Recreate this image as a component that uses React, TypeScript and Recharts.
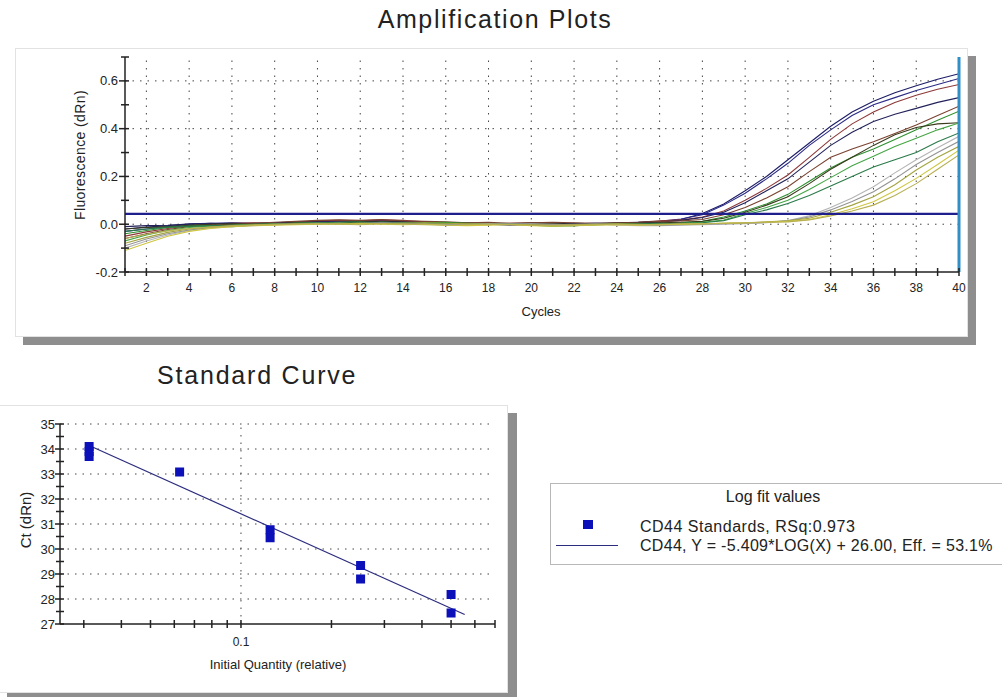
import { ComposedChart, Line, LineChart, ReferenceLine, Scatter, XAxis, YAxis } from 'recharts';

// amplification plot data: fluorescence (dRn) per cycle
const cycles = [1, 2, 3, 4, 5, 6, 7, 8, 9, 10, 11, 12, 13, 14, 15, 16, 17, 18, 19, 20, 21, 22, 23, 24, 25, 26, 27, 28, 29, 30, 31, 32, 33, 34, 35, 36, 37, 38, 39, 40];

const s1 = [-0.02, -0.012, -0.006, 0.002, 0.004, 0.0, 0.002, 0.004, 0.008, 0.01, 0.012, 0.01, 0.014, 0.012, 0.008, 0.006, 0.004, 0.004, 0.002, 0.0, 0.002, 0.002, 0.004, 0.004, 0.006, 0.01, 0.02, 0.045, 0.085, 0.14, 0.2, 0.27, 0.34, 0.41, 0.47, 0.515, 0.55, 0.58, 0.607, 0.63];
const s2 = [-0.03, -0.02, -0.01, 0.0, 0.004, 0.006, 0.004, 0.006, 0.01, 0.012, 0.01, 0.012, 0.016, 0.01, 0.006, 0.004, 0.002, 0.0, -0.004, -0.002, 0.0, 0.002, 0.004, 0.002, 0.006, 0.012, 0.022, 0.04, 0.08, 0.13, 0.19, 0.255, 0.33, 0.395, 0.455, 0.5, 0.53, 0.56, 0.585, 0.61];
const s3 = [-0.05, -0.032, -0.018, -0.006, 0.0, 0.004, 0.006, 0.004, 0.008, 0.014, 0.016, 0.014, 0.018, 0.016, 0.01, 0.006, 0.004, 0.002, 0.004, 0.006, 0.004, 0.002, 0.0, 0.004, 0.008, 0.014, 0.018, 0.03, 0.055, 0.1, 0.15, 0.206, 0.28, 0.355, 0.42, 0.47, 0.51, 0.54, 0.565, 0.585];
const s4 = [-0.01, -0.006, -0.004, 0.0, 0.002, 0.004, 0.002, 0.006, 0.008, 0.01, 0.008, 0.012, 0.012, 0.01, 0.008, 0.004, 0.006, 0.002, 0.0, 0.002, 0.002, 0.004, 0.002, 0.006, 0.008, 0.01, 0.016, 0.028, 0.05, 0.09, 0.14, 0.19, 0.26, 0.33, 0.385, 0.43, 0.46, 0.485, 0.51, 0.53];
const s5 = [-0.06, -0.04, -0.022, -0.01, -0.004, 0.0, 0.004, 0.008, 0.012, 0.016, 0.018, 0.016, 0.02, 0.014, 0.012, 0.01, 0.006, 0.008, 0.004, 0.006, 0.008, 0.006, 0.004, 0.006, 0.008, 0.012, 0.014, 0.02, 0.04, 0.07, 0.11, 0.157, 0.22, 0.28, 0.315, 0.345, 0.38, 0.415, 0.455, 0.494];
const s6 = [-0.04, -0.026, -0.014, -0.008, -0.006, -0.01, -0.004, 0.0, 0.004, 0.006, 0.008, 0.01, 0.006, 0.004, 0.006, 0.008, 0.004, 0.0, 0.002, -0.004, -0.008, -0.006, -0.002, 0.0, 0.002, 0.004, 0.006, 0.012, 0.03, 0.055, 0.085, 0.125, 0.18, 0.235, 0.28, 0.315, 0.355, 0.395, 0.435, 0.473];
const s7 = [-0.02, -0.014, -0.01, -0.004, 0.0, 0.002, 0.0, 0.002, 0.006, 0.008, 0.006, 0.008, 0.01, 0.008, 0.004, 0.002, 0.0, -0.002, 0.002, 0.004, 0.002, 0.0, 0.002, 0.004, 0.004, 0.006, 0.008, 0.012, 0.025, 0.05, 0.08, 0.115, 0.17, 0.23, 0.28, 0.33, 0.375, 0.405, 0.42, 0.425];
const s8 = [-0.07, -0.045, -0.026, -0.014, -0.008, -0.004, 0.0, 0.002, 0.004, 0.006, 0.006, 0.004, 0.008, 0.006, 0.004, 0.002, 0.0, 0.002, 0.0, -0.002, -0.006, -0.004, 0.0, 0.002, 0.0, 0.002, 0.004, 0.008, 0.018, 0.045, 0.07, 0.1, 0.145, 0.195, 0.245, 0.285, 0.325, 0.36, 0.395, 0.424];
const s9 = [-0.03, -0.02, -0.012, -0.008, -0.006, -0.004, -0.002, 0.0, 0.004, 0.006, 0.004, 0.006, 0.008, 0.006, 0.002, 0.0, -0.002, 0.0, 0.002, 0.0, -0.004, -0.006, -0.002, 0.0, 0.002, 0.002, 0.004, 0.006, 0.015, 0.04, 0.06, 0.087, 0.12, 0.16, 0.2, 0.24, 0.27, 0.3, 0.345, 0.382];
const s10 = [-0.1, -0.07, -0.045, -0.026, -0.016, -0.01, -0.006, -0.002, 0.0, 0.002, 0.004, 0.002, 0.004, 0.002, 0.0, -0.002, 0.0, 0.002, 0.0, 0.002, 0.0, -0.002, 0.0, -0.004, -0.006, -0.006, -0.004, -0.002, 0.0, 0.002, 0.006, 0.015, 0.035, 0.07, 0.11, 0.157, 0.215, 0.27, 0.32, 0.368];
const s11 = [-0.09, -0.062, -0.04, -0.024, -0.014, -0.008, -0.004, 0.0, 0.002, 0.004, 0.002, 0.004, 0.006, 0.004, 0.002, 0.0, -0.002, 0.0, 0.002, 0.0, -0.002, 0.0, 0.002, 0.0, -0.002, -0.004, -0.002, 0.0, 0.002, 0.004, 0.008, 0.014, 0.03, 0.06, 0.095, 0.136, 0.19, 0.25, 0.3, 0.347];
const s12 = [-0.08, -0.055, -0.034, -0.02, -0.012, -0.006, -0.002, 0.0, 0.002, 0.0, 0.002, 0.004, 0.002, 0.004, 0.006, 0.004, 0.002, 0.0, 0.0, -0.002, -0.004, -0.002, 0.0, 0.002, 0.0, -0.002, 0.0, 0.002, 0.004, 0.006, 0.01, 0.014, 0.025, 0.05, 0.08, 0.115, 0.165, 0.227, 0.28, 0.326];
const s13 = [-0.11, -0.08, -0.05, -0.03, -0.018, -0.01, -0.006, -0.004, -0.002, 0.0, 0.0, 0.002, 0.0, -0.002, 0.0, -0.004, -0.006, -0.004, -0.002, -0.006, -0.008, -0.006, -0.004, -0.002, -0.004, -0.002, 0.0, 0.002, 0.004, 0.006, 0.008, 0.012, 0.02, 0.04, 0.065, 0.094, 0.14, 0.192, 0.25, 0.31];
const s14 = [-0.06, -0.042, -0.028, -0.018, -0.012, -0.008, -0.004, -0.002, 0.0, 0.002, 0.0, -0.002, 0.002, 0.0, -0.002, -0.004, -0.002, 0.0, -0.002, -0.004, -0.006, -0.004, -0.002, 0.0, -0.002, 0.0, 0.002, 0.002, 0.004, 0.006, 0.008, 0.01, 0.018, 0.035, 0.055, 0.08, 0.12, 0.17, 0.23, 0.29];

const threshold = 0.043;
const ampYTicks = [-0.2, -0.1, 0, 0.1, 0.2, 0.3, 0.4, 0.5, 0.6, 0.7];
const ampGridY = [0, 0.2, 0.4, 0.6];
const ampGridX = [2, 4, 6, 8, 10, 12, 14, 16, 18, 20, 22, 24, 26, 28, 30, 32, 34, 36, 38];

// standard curve data
const stdQuantity = [0.03125, 0.03125, 0.03125, 0.0625, 0.125, 0.125, 0.25, 0.25, 0.5, 0.5];
const stdCt = [34.1, 33.9, 33.7, 33.08, 30.77, 30.45, 29.34, 28.8, 28.18, 27.44];
const fitQuantity = [0.03125, 0.555];
const fitCt = [34.14, 27.38];
const stdYTicks = [27, 27.5, 28, 28.5, 29, 29.5, 30, 30.5, 31, 31.5, 32, 32.5, 33, 33.5, 34, 34.5, 35];
const stdGridY = [28, 29, 30, 31, 32, 33, 34, 35];
const stdXTicks = [0.03, 0.04, 0.05, 0.06, 0.07, 0.08, 0.09, 0.1, 0.2, 0.3, 0.4, 0.5, 0.6, 0.7];

const curves = [
  { key: 's1', values: s1, color: '#1c1c66' },
  { key: 's2', values: s2, color: '#2a2a86' },
  { key: 's3', values: s3, color: '#8c3838' },
  { key: 's4', values: s4, color: '#22225a' },
  { key: 's5', values: s5, color: '#7a4230' },
  { key: 's6', values: s6, color: '#2f8f2f' },
  { key: 's7', values: s7, color: '#3a3a1c' },
  { key: 's8', values: s8, color: '#44a644' },
  { key: 's9', values: s9, color: '#2a7a48' },
  { key: 's10', values: s10, color: '#b4b4b4' },
  { key: 's11', values: s11, color: '#939393' },
  { key: 's12', values: s12, color: '#a4a440' },
  { key: 's13', values: s13, color: '#cfc640' },
  { key: 's14', values: s14, color: '#b8b052' },
];

const ampRows = cycles.map((c, i) => {
  const row: Record<string, number> = { cycle: c };
  curves.forEach(s => (row[s.key] = s.values[i]));
  return row;
});

const stdPoints = stdQuantity.map((q, i) => ({ x: q, y: stdCt[i] }));
const fitPoints = fitQuantity.map((q, i) => ({ x: q, y: fitCt[i] }));

const FONT = '"Liberation Sans", Arial, sans-serif';
const AXIS = '#222';

const AmpXTick = (props: any) => {
  const { x, y, payload } = props;
  const v = payload.value;
  return (
    <g>
      <line x1={x} x2={x} y1={y - 4} y2={y + 4} stroke={AXIS} strokeWidth={1.5} />
      {v % 2 === 0 && (
        <text x={x} y={y + 20} textAnchor='middle' fontSize={12} fill={AXIS} fontFamily={FONT}>
          {v}
        </text>
      )}
    </g>
  );
};

const AmpYTick = (props: any) => {
  const { x, y, payload } = props;
  const tenths = Math.round(payload.value * 10);
  const major = tenths % 2 === 0 && tenths < 7;
  return (
    <g>
      <line x1={x - (major ? 6 : 4)} x2={x + 4} y1={y} y2={y} stroke={AXIS} strokeWidth={1.5} />
      {major && (
        <text x={x - 7} y={y + 4.5} textAnchor='end' fontSize={13} fill={AXIS} fontFamily={FONT}>
          {payload.value.toFixed(1)}
        </text>
      )}
    </g>
  );
};

const StdXTick = (props: any) => {
  const { x, y, payload } = props;
  return (
    <g>
      <line x1={x} x2={x} y1={y - 4} y2={y + 4} stroke={AXIS} strokeWidth={1.5} />
      {payload.value === 0.1 && (
        <text x={x} y={y + 22} textAnchor='middle' fontSize={12} fill={AXIS} fontFamily={FONT}>
          0.1
        </text>
      )}
    </g>
  );
};

const StdYTick = (props: any) => {
  const { x, y, payload } = props;
  const major = Number.isInteger(payload.value);
  return (
    <g>
      <line x1={x - (major ? 5 : 4)} x2={x + 4} y1={y} y2={y} stroke={AXIS} strokeWidth={1.5} />
      {major && (
        <text x={x - 5} y={y + 4.5} textAnchor='end' fontSize={13} fill={AXIS} fontFamily={FONT}>
          {payload.value}
        </text>
      )}
    </g>
  );
};

const Square = (props: any) => {
  const { cx, cy } = props;
  if (cx == null || cy == null) return <g />;
  return <rect x={cx - 4.5} y={cy - 4.5} width={9} height={9} fill='#0c10b8' />;
};

const abs = (left: number, top: number, extra: React.CSSProperties = {}): React.CSSProperties => ({
  position: 'absolute',
  left,
  top,
  ...extra,
});

const App = () => {
  return (
    <div style={{ position: 'absolute', left: 0, top: 0, width: 1002, height: 697, background: '#fff', fontFamily: FONT, color: '#222', overflow: 'hidden' }}>
      {/* Amplification plots */}
      <div style={abs(0, 4, { width: 990, textAlign: 'center', fontSize: 25, letterSpacing: 1.6, lineHeight: '30px' })}>Amplification Plots</div>
      <div style={abs(15, 48, { width: 953, height: 289, border: '1px solid #e2e2e2', boxSizing: 'border-box', boxShadow: '8px 8px 0 #8e8e8e', background: '#fff' })} />
      <div style={abs(0, 0)}>
        <LineChart width={1002} height={350} data={ampRows} margin={{ top: 57, right: 43, left: 65, bottom: 48 }}>
          {ampGridX.map(c => (
            <ReferenceLine key={'gx' + c} x={c} stroke='#444' strokeDasharray='1.5 6' />
          ))}
          {ampGridY.map(v => (
            <ReferenceLine key={'gy' + v} y={v} stroke='#444' strokeDasharray='1.5 6' />
          ))}
          <XAxis
            dataKey='cycle'
            type='number'
            domain={[1, 40]}
            ticks={cycles}
            interval={0}
            height={30}
            tickSize={0}
            tickMargin={0}
            tickLine={false}
            tick={<AmpXTick />}
            axisLine={{ stroke: AXIS, strokeWidth: 1.5 }}
            allowDataOverflow
          />
          <YAxis
            type='number'
            domain={[-0.2, 0.7]}
            ticks={ampYTicks}
            interval={0}
            width={60}
            tickSize={0}
            tickMargin={0}
            tickLine={false}
            tick={<AmpYTick />}
            axisLine={{ stroke: AXIS, strokeWidth: 1.5 }}
            allowDataOverflow
          />
          {curves.map(s => (
            <Line key={s.key} dataKey={s.key} type='linear' stroke={s.color} strokeWidth={1.1} dot={false} isAnimationActive={false} />
          ))}
          <ReferenceLine y={threshold} stroke='#1e1e8c' strokeWidth={2.2} />
          <ReferenceLine x={40} stroke='#2f8fc6' strokeWidth={3} />
        </LineChart>
      </div>
      <div style={abs(80, 155, { fontSize: 14, transform: 'translate(-50%, -50%) rotate(-90deg)', whiteSpace: 'nowrap', letterSpacing: 0.4 })}>Fluorescence (dRn)</div>
      <div style={abs(541, 311, { fontSize: 13, transform: 'translate(-50%, -50%)' })}>Cycles</div>

      {/* Standard curve */}
      <div style={abs(157, 360, { fontSize: 25, letterSpacing: 1.8, lineHeight: '30px', whiteSpace: 'nowrap' })}>Standard Curve</div>
      <div style={abs(-2, 405, { width: 510, height: 288, border: '1px solid #e2e2e2', boxSizing: 'border-box', boxShadow: '9px 8px 0 #8e8e8e', background: '#fff' })} />
      <div style={abs(0, 400)}>
        <ComposedChart width={520} height={297} margin={{ top: 24, right: 25, left: 0, bottom: 43 }}>
          {stdGridY.map(v => (
            <ReferenceLine key={'sy' + v} y={v} stroke='#444' strokeDasharray='1.5 6' />
          ))}
          <ReferenceLine x={0.1} stroke='#444' strokeDasharray='1.5 6' />
          <XAxis
            dataKey='x'
            type='number'
            scale='log'
            domain={[0.025, 0.7]}
            ticks={stdXTicks}
            interval={0}
            height={30}
            tickSize={0}
            tickMargin={0}
            tickLine={false}
            tick={<StdXTick />}
            axisLine={{ stroke: AXIS, strokeWidth: 1.5 }}
            allowDataOverflow
          />
          <YAxis
            dataKey='y'
            type='number'
            domain={[27, 35]}
            ticks={stdYTicks}
            interval={0}
            width={60}
            tickSize={0}
            tickMargin={0}
            tickLine={false}
            tick={<StdYTick />}
            axisLine={{ stroke: AXIS, strokeWidth: 1.5 }}
            allowDataOverflow
          />
          <Scatter data={fitPoints} line={{ stroke: '#2c2c7e', strokeWidth: 1.2 }} shape={() => <g />} isAnimationActive={false} />
          <Scatter data={stdPoints} shape={<Square />} isAnimationActive={false} />
        </ComposedChart>
      </div>
      <div style={abs(25, 520, { fontSize: 15, transform: 'translate(-50%, -50%) rotate(-90deg)', whiteSpace: 'nowrap' })}>Ct (dRn)</div>
      <div style={abs(278, 664, { fontSize: 13, transform: 'translate(-50%, -50%)', whiteSpace: 'nowrap' })}>Initial Quantity (relative)</div>

      {/* Legend */}
      <div style={abs(550, 483, { width: 470, height: 82, border: '1px solid #b8b8b8', boxSizing: 'border-box', background: '#fff' })} />
      <div style={abs(773, 497, { fontSize: 16, transform: 'translate(-50%, -50%)', whiteSpace: 'nowrap' })}>Log fit values</div>
      <div style={abs(583, 520, { width: 10, height: 9, background: '#0c10b8' })} />
      <div style={abs(556, 545, { width: 62, height: 1.3, background: '#2c2c7e' })} />
      <div style={abs(640, 527, { fontSize: 16, letterSpacing: 0.5, transform: 'translateY(-50%)', whiteSpace: 'nowrap' })}>CD44 Standards, RSq:0.973</div>
      <div style={abs(640, 546, { fontSize: 16, letterSpacing: 0.3, transform: 'translateY(-50%)', whiteSpace: 'nowrap' })}>CD44, Y = -5.409*LOG(X) + 26.00, Eff. = 53.1%</div>
    </div>
  );
};

export default App;
